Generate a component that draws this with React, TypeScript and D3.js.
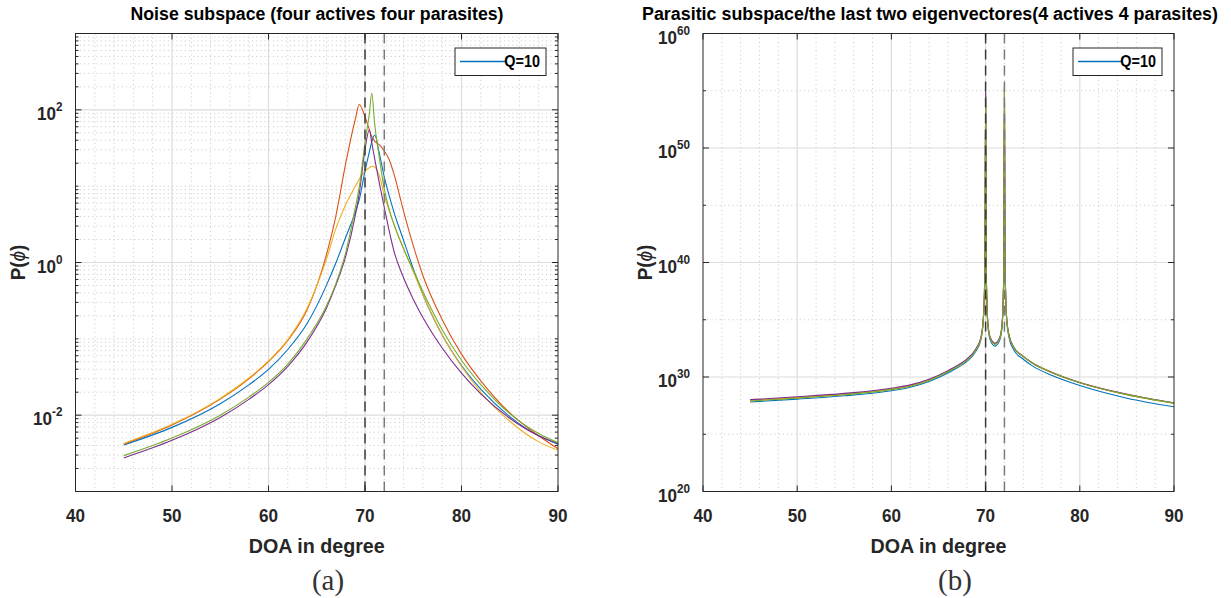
import * as d3 from 'd3'

// panel (a): DOA grid in degrees and log10 P(phi) for every trace
const doaA = [45, 50, 55, 58, 60, 62, 64, 66, 67, 68, 69, 69.4, 70, 70.45, 70.7, 71, 71.5, 72, 72.5, 73, 74, 75, 76, 78, 80, 82, 85, 88, 90]
const blueA = [-2.39, -2.16, -1.85, -1.6, -1.4, -1.14, -0.8, -0.3, 0.0, 0.33, 0.66, 0.82, 1.2, 1.45, 1.58, 1.67, 1.42, 1.12, 0.88, 0.66, 0.29, -0.08, -0.42, -0.95, -1.35, -1.66, -2.02, -2.27, -2.38]
const orangeA = [-2.38, -2.13, -1.79, -1.52, -1.3, -1.02, -0.62, 0.1, 0.62, 1.3, 1.88, 2.07, 1.91, 1.74, 1.65, 1.59, 1.54, 1.46, 1.35, 1.16, 0.67, 0.22, -0.17, -0.75, -1.2, -1.55, -1.97, -2.27, -2.44]
const yellowA = [-2.37, -2.12, -1.78, -1.51, -1.29, -1.01, -0.6, 0.04, 0.45, 0.76, 1.0, 1.09, 1.2, 1.24, 1.26, 1.25, 1.13, 0.88, 0.68, 0.5, 0.18, -0.12, -0.42, -0.95, -1.36, -1.7, -2.08, -2.35, -2.46]
const purpleA = [-2.56, -2.33, -2.03, -1.79, -1.6, -1.36, -1.04, -0.6, -0.29, 0.08, 0.62, 0.9, 1.48, 1.74, 1.57, 1.36, 1.03, 0.72, 0.42, 0.15, -0.2, -0.48, -0.72, -1.12, -1.45, -1.72, -2.04, -2.27, -2.37]
const greenA = [-2.53, -2.3, -2.0, -1.76, -1.57, -1.33, -1.0, -0.57, -0.27, 0.13, 0.72, 0.98, 1.57, 1.95, 2.22, 1.82, 1.36, 0.96, 0.7, 0.5, 0.18, -0.1, -0.38, -0.88, -1.28, -1.6, -1.98, -2.24, -2.36]

// panel (b)
const doaB = [45, 50, 55, 60, 62, 64, 66, 67, 68, 69, 69.5, 69.75, 69.88, 69.95, 70, 70.05, 70.12, 70.25, 70.5, 71, 71.5, 71.75, 71.88, 71.95, 72, 72.05, 72.12, 72.25, 72.5, 73, 74, 75, 77, 80, 85, 90]
const blueB = [27.82, 28.07, 28.36, 28.8, 29.1, 29.6, 30.35, 30.8, 31.35, 32.3, 33.25, 34.85, 37.3, 41.3, 54.5, 41.3, 36.8, 34.4, 33.2, 32.7, 33.2, 34.4, 36.8, 41.3, 55.0, 41.3, 37.3, 34.8, 33.4, 32.35, 31.55, 30.95, 30.15, 29.25, 28.15, 27.4]
const orangeB = [27.95, 28.2, 28.5, 28.95, 29.25, 29.75, 30.5, 30.95, 31.5, 32.45, 33.4, 35.0, 37.5, 41.5, 54.8, 41.5, 37.0, 34.6, 33.4, 32.9, 33.4, 34.6, 37.0, 41.5, 55.4, 41.5, 37.5, 35.0, 33.6, 32.6, 31.8, 31.2, 30.4, 29.5, 28.45, 27.7]
const yellowB = [27.93, 28.18, 28.48, 28.93, 29.23, 29.73, 30.48, 30.93, 31.48, 32.43, 33.38, 34.98, 37.45, 41.4, 54.3, 41.4, 37.0, 34.6, 33.38, 32.88, 33.38, 34.6, 37.0, 41.5, 55.6, 41.5, 37.5, 35.0, 33.6, 32.6, 31.8, 31.22, 30.42, 29.52, 28.48, 27.72]
const purpleB = [28.02, 28.27, 28.57, 29.02, 29.31, 29.8, 30.55, 31.0, 31.55, 32.5, 33.45, 35.05, 37.6, 41.6, 54.9, 41.6, 37.1, 34.65, 33.45, 32.95, 33.45, 34.65, 37.1, 41.6, 55.2, 41.6, 37.5, 35.0, 33.6, 32.6, 31.8, 31.2, 30.42, 29.52, 28.5, 27.75]
const greenB = [27.9, 28.15, 28.45, 28.9, 29.2, 29.7, 30.45, 30.9, 31.45, 32.4, 33.35, 34.95, 37.4, 41.4, 54.0, 41.4, 36.95, 34.55, 33.35, 32.85, 33.35, 34.55, 36.95, 41.4, 55.3, 41.4, 37.45, 34.95, 33.58, 32.58, 31.78, 31.2, 30.4, 29.5, 28.46, 27.72]

const xTicks = [40, 50, 60, 70, 80, 90]
const yTickExpA = [-2, 0, 2]
const yTickExpB = [20, 30, 40, 50, 60]
const yMinorExpB = [25, 35, 45, 55]
const dashedDoa = [70, 72]
const legendLabel = 'Q=10'
const titleA = 'Noise subspace (four actives four parasites)'
const titleB = 'Parasitic subspace/the last two eigenvectores(4 actives 4 parasites)'
const xLabel = 'DOA in degree'

const colors = ['#0072BD', '#D95319', '#EDB120', '#7E2F8E', '#77AC30']
const dashColors = ['#3a3a3a', '#7a7a7a']
const font = 'Liberation Sans, Arial, sans-serif'
const TOP = 33.5
const BOTTOM = 491.5

function Panel(props: any) {
  const { id, left, right, doa, series, expDomain, majorExp, minorVals, title, titleCx, titleW,
    legendX, legendW, ylabelX, tag, tagX } = props
  const x = d3.scaleLinear().domain([40, 90]).range([left, right])
  const y = d3.scaleLog().domain([10 ** expDomain[0], 10 ** expDomain[1]]).range([BOTTOM, TOP])
  const line = d3.line<number>()
    .x((_, i) => x(doa[i]))
    .y(v => y(10 ** v))
    .curve(d3.curveMonotoneX)
  const xMinor = d3.range(42, 90, 2).filter(v => v % 10 !== 0)
  const majors = majorExp.map((e: number) => 10 ** e)
  const cx = (left + right) / 2

  return (
    <g>
      <defs>
        <clipPath id={id}>
          <rect x={left} y={TOP} width={right - left} height={BOTTOM - TOP} />
        </clipPath>
      </defs>
      {/* minor grid */}
      {xMinor.map(v => (
        <line key={'xm' + v} x1={x(v)} x2={x(v)} y1={TOP} y2={BOTTOM} stroke="#cfcfcf" strokeDasharray="1.2,3" />
      ))}
      {minorVals.map((v: number, i: number) => (
        <line key={'ym' + i} x1={left} x2={right} y1={y(v)} y2={y(v)} stroke="#cfcfcf" strokeDasharray="1.2,3" />
      ))}
      {/* major grid */}
      {xTicks.slice(1, -1).map(v => (
        <line key={'xg' + v} x1={x(v)} x2={x(v)} y1={TOP} y2={BOTTOM} stroke="#dcdcdc" strokeWidth={1.2} />
      ))}
      {majors.map((v: number, i: number) => (
        <line key={'yg' + i} x1={left} x2={right} y1={y(v)} y2={y(v)} stroke="#dcdcdc" strokeWidth={1.2} />
      ))}

      <g clipPath={`url(#${id})`}>
        {series.map((s: number[], i: number) => (
          <path key={i} d={line(s) || ''} fill="none" stroke={colors[i]} strokeWidth={1.1} />
        ))}
        {dashedDoa.map((v, i) => (
          <line key={'d' + v} x1={x(v)} x2={x(v)} y1={TOP} y2={BOTTOM} stroke={dashColors[i]}
            strokeWidth={1.5} strokeDasharray="10,6" />
        ))}
      </g>

      {/* axes box and ticks */}
      <rect x={left} y={TOP} width={right - left} height={BOTTOM - TOP} fill="none" stroke="#262626" strokeWidth={1} />
      {xTicks.map(v => (
        <g key={'xt' + v}>
          <line x1={x(v)} x2={x(v)} y1={BOTTOM} y2={BOTTOM - 6} stroke="#262626" />
          <line x1={x(v)} x2={x(v)} y1={TOP} y2={TOP + 6} stroke="#262626" />
          <g transform={`translate(${x(v)},${BOTTOM + 30}) scale(0.9,1)`}>
            <text textAnchor="middle" fontSize={19} fontWeight="bold" fontFamily={font} fill="#262626">{v}</text>
          </g>
        </g>
      ))}
      {minorVals.map((v: number, i: number) => (
        <g key={'ymt' + i}>
          <line x1={left} x2={left + 3} y1={y(v)} y2={y(v)} stroke="#262626" />
          <line x1={right} x2={right - 3} y1={y(v)} y2={y(v)} stroke="#262626" />
        </g>
      ))}
      {majorExp.concat(expDomain).map((e: number, i: number) => (
        <g key={'yt' + i}>
          <line x1={left} x2={left + 6} y1={y(10 ** e)} y2={y(10 ** e)} stroke="#262626" />
          <line x1={right} x2={right - 6} y1={y(10 ** e)} y2={y(10 ** e)} stroke="#262626" />
        </g>
      ))}
      {props.labelExp.map((e: number) => (
        <g key={'yl' + e} transform={`translate(${left - 13},${y(10 ** e) + 10}) scale(0.9,1)`}>
          <text textAnchor="end" fontWeight="bold" fontFamily={font} fill="#262626" fontSize={19}>
            10<tspan dy={-9} fontSize={13}>{e}</tspan>
          </text>
        </g>
      ))}

      {/* labels */}
      <text x={titleCx} y={20} textAnchor="middle" fontSize={18} fontWeight="bold" fontFamily={font} fill="#000"
        textLength={titleW} lengthAdjust="spacingAndGlyphs">{title}</text>
      <text x={cx} y={553} textAnchor="middle" fontSize={20} fontWeight="bold" fontFamily={font} fill="#262626"
        textLength={136} lengthAdjust="spacingAndGlyphs">{xLabel}</text>
      <g transform={`translate(${ylabelX},${(TOP + BOTTOM) / 2}) rotate(-90) scale(0.9,1)`}>
        <text textAnchor="middle" fontSize={21} fontWeight="bold" fontFamily={font} fill="#262626">
          P(<tspan fontStyle="italic" fontWeight="normal">{'\u03d5'}</tspan>)
        </text>
      </g>
      <text x={tagX} y={590} textAnchor="middle" fontSize={29} fontFamily="Liberation Serif, DejaVu Serif, serif" fill="#333">{tag}</text>

      {/* legend */}
      <rect x={legendX} y={48} width={legendW} height={27.5} fill="#fff" stroke="#262626" strokeWidth={1} />
      <line x1={legendX + 5} x2={legendX + 50} y1={61.5} y2={61.5} stroke={colors[0]} strokeWidth={1.4} />
      <g transform={`translate(${legendX + legendW - 6},67) scale(0.9,1)`}>
        <text textAnchor="end" fontSize={16} fontWeight="bold" fontFamily={font} fill="#000">{legendLabel}</text>
      </g>
    </g>
  )
}

export default function App() {
  const minorA = d3.scaleLog().domain([1e-3, 1e3]).ticks()
    .filter(v => v > 1e-3 && v < 1e3)
    .filter(v => !yTickExpA.some(e => Math.abs(Math.log10(v) - e) < 1e-6))
  const minorB = yMinorExpB.map(e => 10 ** e)
  return (
    <svg width={1231} height={598} style={{ position: 'absolute', left: 0, top: 0, background: '#fff' }}>
      <rect width={1231} height={598} fill="#fff" />
      <Panel id="clipA" left={75.5} right={558} doa={doaA}
        series={[blueA, orangeA, yellowA, purpleA, greenA]}
        expDomain={[-3, 3]} majorExp={yTickExpA} labelExp={yTickExpA} minorVals={minorA}
        title={titleA} titleCx={317} titleW={373}
        legendX={455} legendW={91} ylabelX={25} tag="(a)" tagX={328} />
      <Panel id="clipB" left={703} right={1174} doa={doaB}
        series={[blueB, orangeB, yellowB, purpleB, greenB]}
        expDomain={[20, 60]} majorExp={yTickExpB.slice(1, -1)} labelExp={yTickExpB} minorVals={minorB}
        title={titleB} titleCx={930} titleW={576}
        legendX={1073} legendW={89} ylabelX={652} tag="(b)" tagX={955} />
    </svg>
  )
}
